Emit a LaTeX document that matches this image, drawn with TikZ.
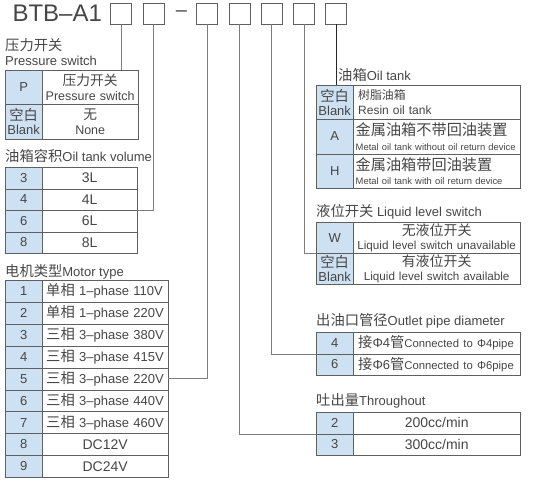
\documentclass[tikz,border=0pt]{standalone}
\usepackage{fontspec}
\setmainfont{Liberation Sans}
\newfontfamily\cjk[Scale=1.1]{Noto Sans CJK SC}
\usepackage{tikz}
\usetikzlibrary{positioning}
\definecolor{keyblue}{RGB}{206,225,242}
\definecolor{txtgray}{RGB}{70,70,70}
\definecolor{rulegray}{RGB}{95,95,95}
\definecolor{linkgray}{RGB}{125,125,125}
\definecolor{darklink}{RGB}{40,40,40}
\newcommand{\zh}[1]{{\cjk #1}}
\newcommand{\fs}[1]{\fontsize{#1}{#1}\selectfont}

\begin{document}
\begin{tikzpicture}[x=1pt,y=-1pt,
  every node/.style={text=txtgray},
  font=\fontsize{12.5}{14.5}\selectfont,
  cbox/.style={draw=rulegray,line width=0.8pt,minimum size=21pt,inner sep=0pt},
  key/.style={draw=rulegray,fill=keyblue,anchor=north west,inner sep=0pt,minimum width=37pt,align=center,
    font=\fontsize{13}{14}\selectfont},
  val/.style={draw=rulegray,fill=white,anchor=north west,inner xsep=5pt,inner ysep=0pt,align=center},
  big/.style={font=\fontsize{14}{14}\selectfont},
  hd/.style={anchor=west,inner sep=0pt,font=\fontsize{13}{15}\selectfont},
  lnk/.style={draw=linkgray,line width=0.7pt}
]
\useasboundingbox (0,0) rectangle (536,487);

% model code
\node[cbox] (b1) at (121,13.5) {};
\node[anchor=east,inner sep=0pt,font=\fontsize{24}{24}\selectfont,left=8pt of b1] (title) {BTB–A1};
\node[cbox,right=11pt of b1] (b2) {};
\node[inner sep=0pt,font=\fontsize{20}{20}\selectfont,right=11pt of b2] (dash) {–};
\node[cbox,right=9pt of dash] (b3) {};
\node[cbox,right=10.5pt of b3] (b4) {};
\node[cbox,right=10.5pt of b4] (b5) {};
\node[cbox,right=10.5pt of b5] (b6) {};
\node[cbox,right=10.5pt of b6] (b7) {};

% pressure switch
\node[hd,anchor=north west,align=left] (hP) at (5,38) {\zh{压力开关}\\Pressure switch};
\node[key,minimum height=34pt] (pkP) at (5,70) {P};
\node[val,text width=92pt,inner xsep=2pt,minimum height=34pt] (pvP) at (42,70) {\zh{压力开关}\\Pressure switch};
\node[key,minimum height=35pt] (pkB) at (5,104) {\zh{空白}\\Blank};
\node[val,text width=86pt,minimum height=35pt] (pvB) at (42,104) {\zh{无}\\None};

% oil tank volume
\node[hd] (hV) at (5,156) {\zh{油箱容积}Oil tank volume};
\foreach \n [count=\i from 0] in {3,4,6,8} {
  \node[key,minimum height=21.5pt] (vk\n) at (5,167+21.5*\i) {\n};
  \node[val,big,text width=85pt,minimum height=21.5pt] (vv\n) at (42,167+21.5*\i) {\n L};
}

% motor type
\node[hd] (hM) at (5,272) {\zh{电机类型}Motor type};
\foreach \n/\t/\v in {1/单相/1–phase 110V,2/单相/1–phase 220V,3/三相/3–phase 380V,
  4/三相/3–phase 415V,5/三相/3–phase 220V,6/三相/3–phase 440V,7/三相/3–phase 460V} {
  \node[key,minimum height=21.9pt] (mk\n) at (5,280+21.9*\n-21.9) {\n};
  \node[val,text width=118pt,inner xsep=4pt,align=left,minimum height=21.9pt,font=\fontsize{13}{14}\selectfont]
    (mv\n) at (42,280+21.9*\n-21.9) {\zh{\t} \v};
}
\node[key,minimum height=21.9pt] (mk8) at (5,433.2) {8};
\node[val,big,text width=116pt,minimum height=21.9pt] (mv8) at (42,433.2) {DC12V};
\node[key,minimum height=21.9pt] (mk9) at (5,455.1) {9};
\node[val,big,text width=116pt,minimum height=21.9pt] (mv9) at (42,455.1) {DC24V};

% oil tank
\node[hd] (hT) at (338,75) {\zh{油箱}Oil tank};
\node[key,minimum height=34pt] (tkB) at (316,85) {\zh{空白}\\Blank};
\node[val,text width=157pt,align=left,minimum height=34pt,font=\fontsize{12}{14.5}\selectfont] (tvB) at (353,85)
  {{\fs{10.8}\zh{树脂油箱}}\\Resin oil tank};
\node[key,minimum height=34.5pt] (tkA) at (316,119) {A};
\node[val,text width=162pt,inner xsep=2.5pt,align=left,minimum height=34.5pt,font=\fontsize{9.4}{14.5}\selectfont]
  (tvA) at (353,119) {{\fs{13.8}\zh{金属油箱不带回油装置}}\\Metal oil tank without oil return device};
\node[key,minimum height=34.5pt] (tkH) at (316,153.5) {H};
\node[val,text width=162pt,inner xsep=2.5pt,align=left,minimum height=34.5pt,font=\fontsize{9.4}{14.5}\selectfont]
  (tvH) at (353,153.5) {{\fs{13.8}\zh{金属油箱带回油装置}}\\Metal oil tank with oil return device};

% liquid level switch
\node[hd] (hL) at (316,212) {\zh{液位开关} Liquid level switch};
\node[key,minimum height=31pt] (lkW) at (316,222) {W};
\node[val,text width=165pt,inner xsep=1pt,minimum height=31pt,font=\fontsize{11.7}{13.5}\selectfont] (lvW) at (353,222)
  {{\fs{12.7}\zh{无液位开关}}\\Liquid level switch unavailable};
\node[key,minimum height=31pt] (lkB) at (316,253) {\zh{空白}\\Blank};
\node[val,text width=165pt,inner xsep=1pt,minimum height=31pt,font=\fontsize{11.7}{13.5}\selectfont] (lvB) at (353,253)
  {{\fs{12.7}\zh{有液位开关}}\\Liquid level switch available};

% outlet pipe diameter
\node[hd] (hO) at (316,321) {\zh{出油口管径}Outlet pipe diameter};
\node[key,minimum height=21.5pt] (ok4) at (316,332) {4};
\node[val,text width=157pt,align=left,minimum height=21.5pt,font=\fontsize{13}{14}\selectfont] (ov4) at (353,332)
  {\zh{接}Φ4\zh{管}{\fs{11.3}Connected to Φ4pipe}};
\node[key,minimum height=21.5pt] (ok6) at (316,353.5) {6};
\node[val,text width=157pt,align=left,minimum height=21.5pt,font=\fontsize{13}{14}\selectfont] (ov6) at (353,353.5)
  {\zh{接}Φ6\zh{管}{\fs{11.3}Connected to Φ6pipe}};

% throughout
\node[hd] (hQ) at (316,401) {\zh{吐出量}Throughout};
\node[key,minimum height=21.5pt] (qk2) at (316,412) {2};
\node[val,big,text width=157pt,minimum height=21.5pt] (qv2) at (353,412) {200cc/min};
\node[key,minimum height=21.5pt] (qk3) at (316,433.5) {3};
\node[val,big,text width=157pt,minimum height=21.5pt] (qv3) at (353,433.5) {300cc/min};

% links
\draw[lnk] (b1.south) -- (b1.south |- pvP.north);
\draw[lnk] (b2.south) |- (vv4.south east);
\draw[lnk] (b3.south) |- (mv5.east);
\draw[lnk] (b4.south) |- (qk2.south west);
\draw[lnk] (b5.south) |- (ok4.south west);
\draw[lnk] (b6.south) |- (lkW.south west);
\draw[lnk,draw=darklink] (b7.south) -- (b7.south |- tkB.north);
\end{tikzpicture}
\end{document}
